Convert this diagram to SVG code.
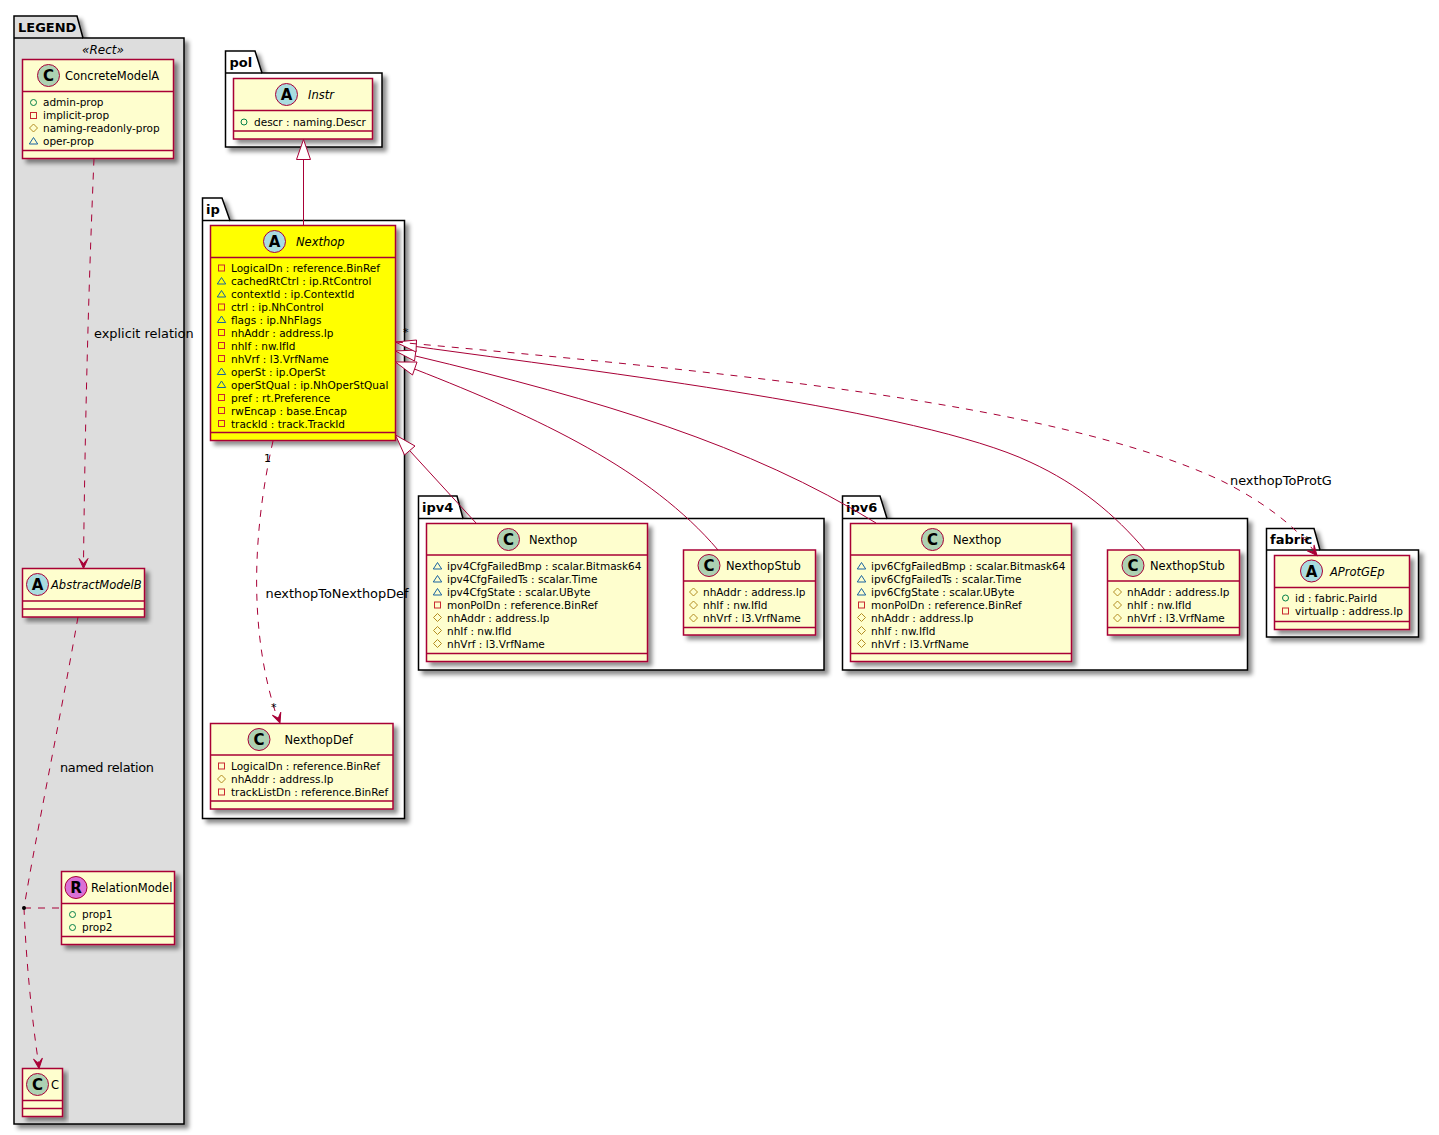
<svg xmlns="http://www.w3.org/2000/svg" width="1439" height="1135" viewBox="0 0 1439 1135">
<defs>
<style>
text{font-family:"DejaVu Sans",sans-serif;fill:#000}
.pk{stroke:#000;stroke-width:1.5;fill:#fff}
.pn{font-size:13px;font-weight:bold}
.b{fill:#FEFECE;stroke:#A80036;stroke-width:1.5}
.y{fill:#FF0}
.d{stroke:#A80036;stroke-width:1.5;fill:none}
.c{fill:#ADD1B2;stroke:#A80036}
.ca{fill:#A9DCDF;stroke:#A80036}
.cr{fill:#DA70D6;stroke:#A80036}
.l{font-size:15px;font-weight:bold;text-anchor:middle}
.t{font-size:11.5px}
.i{font-style:italic}
.a{font-size:10.5px}
.e{font-size:12.9px}
.m{font-size:11px}
.r{fill:none;stroke:#A80036;stroke-width:1}
.ds{stroke-dasharray:7,7}
.h{fill:#A80036;stroke:#A80036}
.o{fill:#fff;stroke:#A80036;stroke-width:1}
</style>
<filter id="s" x="-10%" y="-10%" width="125%" height="125%"><feDropShadow dx="4" dy="4" stdDeviation="2" flood-color="#000" flood-opacity=".45"/></filter>
<circle id="pub" r="3" fill="none" stroke="#038048"/>
<rect id="pri" x="-3" y="-3" width="6" height="6" fill="none" stroke="#C82930"/>
<path id="pro" d="M0-4 4 0 0 4-4 0Z" fill="none" stroke="#B38D22"/>
<path id="pkg" d="M0-3.5 4.2 3H-4.2Z" fill="none" stroke="#1963A0"/>
<path id="head" d="M0 0-4.5-10 0-5 4.5-10Z" class="h"/>
</defs>

<g id="pkg-legend">
<path class="pk" style="fill:#DDD" filter="url(#s)" d="M14 38V16H77L83 38H184V1124H14Z"/>
<path class="pk" style="fill:none" d="M14 38H83"/>
<text class="pn" x="18" y="32">LEGEND</text>
<text class="t i" x="103" y="54" text-anchor="middle" style="font-size:12px">«Rect»</text>
</g>
<g id="pkg-pol">
<path class="pk" filter="url(#s)" d="M225.5 73V51H255L262 73H382V147H225.5Z"/>
<path class="pk" style="fill:none" d="M225.5 73H262"/>
<text class="pn" x="229.500" y="67">pol</text>
</g>
<g id="pkg-ip">
<path class="pk" filter="url(#s)" d="M202.500 220.500V198H222L230 220.500H404.500V818.500H202.500Z"/>
<path class="pk" style="fill:none" d="M202.500 220.500H230"/>
<text class="pn" x="206" y="214">ip</text>
</g>
<g id="pkg-ipv4">
<path class="pk" filter="url(#s)" d="M418.500 518.500V496H457L463 518.500H824V670H418.500Z"/>
<path class="pk" style="fill:none" d="M418.500 518.500H463"/>
<text class="pn" x="422" y="512">ipv4</text>
</g>
<g id="pkg-ipv6">
<path class="pk" filter="url(#s)" d="M842.500 518.500V496H880L887 518.500H1247.500V670H842.500Z"/>
<path class="pk" style="fill:none" d="M842.500 518.500H887"/>
<text class="pn" x="846" y="512">ipv6</text>
</g>
<g id="pkg-fabric">
<path class="pk" filter="url(#s)" d="M1266.500 550V528.500H1314L1320 550H1418.500V637H1266.500Z"/>
<path class="pk" style="fill:none" d="M1266.500 550H1320"/>
<text class="pn" x="1270" y="544">fabric</text>
</g>

<g id="ConcreteModelA">
<rect class="b" filter="url(#s)" x="22.500" y="59.500" width="151" height="99"/>
<path class="d" d="M22.500 91.500H173.500M22.500 150.500H173.500"/>
<circle class="c" cx="48.500" cy="75.500" r="11"/><text class="l" x="48.500" y="81">C</text>
<text class="t" x="65" y="80">ConcreteModelA</text>
<use href="#pub" x="33.500" y="102.500"/><text class="a" x="43" y="106">admin-prop</text>
<use href="#pri" x="33.500" y="115.500"/><text class="a" x="43" y="119">implicit-prop</text>
<use href="#pro" x="33.500" y="128"/><text class="a" x="43" y="132">naming-readonly-prop</text>
<use href="#pkg" x="33.500" y="141"/><text class="a" x="43" y="145">oper-prop</text>
</g>
<g id="AbstractModelB">
<rect class="b" filter="url(#s)" x="22.500" y="568.500" width="122" height="48.500"/>
<path class="d" d="M22.500 601H144.500M22.500 609H144.500"/>
<circle class="ca" cx="37.500" cy="584.500" r="11"/><text class="l" x="37.500" y="590">A</text>
<text class="t i" x="51" y="589">AbstractModelB</text>
</g>
<g id="RelationModel">
<rect class="b" filter="url(#s)" x="61.500" y="871.500" width="113" height="73"/>
<path class="d" d="M61.500 903.500H174.500M61.500 936.500H174.500"/>
<circle class="cr" cx="76" cy="887.500" r="11"/><text class="l" x="76" y="893">R</text>
<text class="t" x="91" y="892">RelationModel</text>
<use href="#pub" x="72.500" y="914.500"/><text class="a" x="82" y="918">prop1</text>
<use href="#pub" x="72.500" y="927.500"/><text class="a" x="82" y="931">prop2</text>
</g>
<g id="C">
<rect class="b" filter="url(#s)" x="22.500" y="1068.500" width="40" height="48"/>
<path class="d" d="M22.500 1100.500H62.500M22.500 1108.500H62.500"/>
<circle class="c" cx="37.500" cy="1084.500" r="11"/><text class="l" x="37.500" y="1090">C</text>
<text class="t" x="51" y="1089">C</text>
</g>
<g id="Instr">
<rect class="b" filter="url(#s)" x="233.500" y="78.500" width="139" height="60.500"/>
<path class="d" d="M233.500 110.500H372.500M233.500 131H372.500"/>
<circle class="ca" cx="286.500" cy="94.500" r="11"/><text class="l" x="286.500" y="100">A</text>
<text class="t i" x="308" y="99">Instr</text>
<use href="#pub" x="244" y="122"/><text class="a" x="254" y="126">descr : naming.Descr</text>
</g>
<g id="ip-Nexthop">
<rect class="b y" filter="url(#s)" x="210.500" y="225.500" width="185" height="215"/>
<path class="d" d="M210.500 257.500H395.500M210.500 432.500H395.500"/>
<circle class="ca" cx="274.500" cy="241.500" r="11"/><text class="l" x="274.500" y="247">A</text>
<text class="t i" x="296" y="246">Nexthop</text>
<use href="#pri" x="221.500" y="268"/><text class="a" x="231" y="272">LogicalDn : reference.BinRef</text>
<use href="#pkg" x="221.500" y="281"/><text class="a" x="231" y="285">cachedRtCtrl : ip.RtControl</text>
<use href="#pkg" x="221.500" y="294"/><text class="a" x="231" y="298">contextId : ip.ContextId</text>
<use href="#pri" x="221.500" y="307"/><text class="a" x="231" y="311">ctrl : ip.NhControl</text>
<use href="#pkg" x="221.500" y="319.500"/><text class="a" x="231" y="323.500">flags : ip.NhFlags</text>
<use href="#pri" x="221.500" y="332.500"/><text class="a" x="231" y="336.500">nhAddr : address.Ip</text>
<use href="#pri" x="221.500" y="345.500"/><text class="a" x="231" y="349.500">nhIf : nw.IfId</text>
<use href="#pri" x="221.500" y="358.500"/><text class="a" x="231" y="362.500">nhVrf : l3.VrfName</text>
<use href="#pkg" x="221.500" y="371.500"/><text class="a" x="231" y="375.500">operSt : ip.OperSt</text>
<use href="#pkg" x="221.500" y="384.500"/><text class="a" x="231" y="388.500">operStQual : ip.NhOperStQual</text>
<use href="#pri" x="221.500" y="397.500"/><text class="a" x="231" y="401.500">pref : rt.Preference</text>
<use href="#pri" x="221.500" y="410.500"/><text class="a" x="231" y="414.500">rwEncap : base.Encap</text>
<use href="#pri" x="221.500" y="423.500"/><text class="a" x="231" y="427.500">trackId : track.TrackId</text>
</g>
<g id="NexthopDef">
<rect class="b" filter="url(#s)" x="210.500" y="723.500" width="182.500" height="85.500"/>
<path class="d" d="M210.500 755H393M210.500 801H393"/>
<circle class="c" cx="259" cy="739.500" r="11"/><text class="l" x="259" y="745">C</text>
<text class="t" x="284.500" y="744">NexthopDef</text>
<use href="#pri" x="221.500" y="766"/><text class="a" x="231" y="770">LogicalDn : reference.BinRef</text>
<use href="#pro" x="221.500" y="779"/><text class="a" x="231" y="783">nhAddr : address.Ip</text>
<use href="#pri" x="221.500" y="792"/><text class="a" x="231" y="796">trackListDn : reference.BinRef</text>
</g>
<g id="ipv4-Nexthop">
<rect class="b" filter="url(#s)" x="426.500" y="523.500" width="221" height="138"/>
<path class="d" d="M426.500 555H647.500M426.500 653.500H647.500"/>
<circle class="c" cx="508.500" cy="539.500" r="11"/><text class="l" x="508.500" y="545">C</text>
<text class="t" x="529" y="544">Nexthop</text>
<use href="#pkg" x="437.500" y="566"/><text class="a" x="447" y="570">ipv4CfgFailedBmp : scalar.Bitmask64</text>
<use href="#pkg" x="437.500" y="579"/><text class="a" x="447" y="583">ipv4CfgFailedTs : scalar.Time</text>
<use href="#pkg" x="437.500" y="592"/><text class="a" x="447" y="596">ipv4CfgState : scalar.UByte</text>
<use href="#pri" x="437.500" y="605"/><text class="a" x="447" y="609">monPolDn : reference.BinRef</text>
<use href="#pro" x="437.500" y="617.500"/><text class="a" x="447" y="621.500">nhAddr : address.Ip</text>
<use href="#pro" x="437.500" y="630.500"/><text class="a" x="447" y="634.500">nhIf : nw.IfId</text>
<use href="#pro" x="437.500" y="643.500"/><text class="a" x="447" y="647.500">nhVrf : l3.VrfName</text>
</g>
<g id="ipv4-NexthopStub">
<rect class="b" filter="url(#s)" x="683.500" y="550" width="132" height="85"/>
<path class="d" d="M683.500 581H815.500M683.500 627.500H815.500"/>
<circle class="c" cx="709" cy="565.500" r="11"/><text class="l" x="709" y="571">C</text>
<text class="t" x="726" y="570">NexthopStub</text>
<use href="#pro" x="693.500" y="592"/><text class="a" x="703" y="596">nhAddr : address.Ip</text>
<use href="#pro" x="693.500" y="605"/><text class="a" x="703" y="609">nhIf : nw.IfId</text>
<use href="#pro" x="693.500" y="618"/><text class="a" x="703" y="622">nhVrf : l3.VrfName</text>
</g>
<g id="ipv6-Nexthop">
<rect class="b" filter="url(#s)" x="850.500" y="523.500" width="221" height="138"/>
<path class="d" d="M850.500 555H1071.500M850.500 653.500H1071.500"/>
<circle class="c" cx="932.500" cy="539.500" r="11"/><text class="l" x="932.500" y="545">C</text>
<text class="t" x="953" y="544">Nexthop</text>
<use href="#pkg" x="861.500" y="566"/><text class="a" x="871" y="570">ipv6CfgFailedBmp : scalar.Bitmask64</text>
<use href="#pkg" x="861.500" y="579"/><text class="a" x="871" y="583">ipv6CfgFailedTs : scalar.Time</text>
<use href="#pkg" x="861.500" y="592"/><text class="a" x="871" y="596">ipv6CfgState : scalar.UByte</text>
<use href="#pri" x="861.500" y="605"/><text class="a" x="871" y="609">monPolDn : reference.BinRef</text>
<use href="#pro" x="861.500" y="617.500"/><text class="a" x="871" y="621.500">nhAddr : address.Ip</text>
<use href="#pro" x="861.500" y="630.500"/><text class="a" x="871" y="634.500">nhIf : nw.IfId</text>
<use href="#pro" x="861.500" y="643.500"/><text class="a" x="871" y="647.500">nhVrf : l3.VrfName</text>
</g>
<g id="ipv6-NexthopStub">
<rect class="b" filter="url(#s)" x="1107.500" y="550" width="132" height="85"/>
<path class="d" d="M1107.500 581H1239.500M1107.500 627.500H1239.500"/>
<circle class="c" cx="1133" cy="565.500" r="11"/><text class="l" x="1133" y="571">C</text>
<text class="t" x="1150" y="570">NexthopStub</text>
<use href="#pro" x="1117.500" y="592"/><text class="a" x="1127" y="596">nhAddr : address.Ip</text>
<use href="#pro" x="1117.500" y="605"/><text class="a" x="1127" y="609">nhIf : nw.IfId</text>
<use href="#pro" x="1117.500" y="618"/><text class="a" x="1127" y="622">nhVrf : l3.VrfName</text>
</g>
<g id="AProtGEp">
<rect class="b" filter="url(#s)" x="1274.500" y="555.500" width="135" height="74"/>
<path class="d" d="M1274.500 587.500H1409.500M1274.500 621.500H1409.500"/>
<circle class="ca" cx="1311.500" cy="571" r="11"/><text class="l" x="1311.500" y="576.500">A</text>
<text class="t i" x="1330" y="576">AProtGEp</text>
<use href="#pub" x="1285.500" y="598"/><text class="a" x="1295" y="602">id : fabric.PairId</text>
<use href="#pri" x="1285.500" y="611"/><text class="a" x="1295" y="615">virtualIp : address.Ip</text>
</g>

<g id="connectors">
<path class="r ds" d="M94 158.500C88 300 85 430 83.500 563"/>
<use href="#head" transform="translate(83.500 568.500)"/>
<text class="e" x="94" y="338">explicit relation</text>
<path class="r ds" d="M78 617C60 720 35 840 24 908"/>
<path class="r ds" d="M24 908C26 960 32 1020 38.500 1063"/>
<use href="#head" transform="translate(39 1068.500) rotate(-6)"/>
<path class="r ds" d="M24 908H61"/>
<circle cx="24" cy="908" r="2" fill="#000"/>
<text class="e" x="60" y="772" textLength="94">named relation</text>
<path class="r" d="M303.500 159.500V225"/>
<path class="o" d="M303.500 139.500L296.500 159.500H310.500Z"/>
<path class="r" d="M410 451L476 523"/>
<path class="o" d="M395.500 435L415 446L404.500 455Z"/>
<path class="r" d="M414.500 369C540 418 650 470 718 550"/>
<path class="o" d="M395.500 362L417 362L412.500 375Z"/>
<path class="r" d="M415.500 356C600 400 750 445 876 523"/>
<path class="o" d="M395.500 351L416 350L414.500 361Z"/>
<path class="r" d="M416 346.500C600 372 920 410 1030 462C1080 485 1115 515 1145 550"/>
<path class="o" d="M395.500 342L416.500 340L416 352Z"/>
<path class="r ds" d="M396 342C700 370 1050 400 1222 481C1260 500 1295 525 1314 551"/>
<use href="#head" transform="translate(1317 555.500) rotate(-40)"/>
<text class="m" x="403" y="336">*</text>
<text class="e" x="1230" y="485">nexthopToProtG</text>
<text class="m" x="1304" y="544">*</text>
<path class="r ds" d="M273 441C253 530 248 630 277 717"/>
<use href="#head" transform="translate(280 723) rotate(-20)"/>
<text class="m" x="264" y="462">1</text>
<text class="m" x="271" y="711">*</text>
<text class="e" x="265.500" y="598">nexthopToNexthopDef</text>
</g>
</svg>
